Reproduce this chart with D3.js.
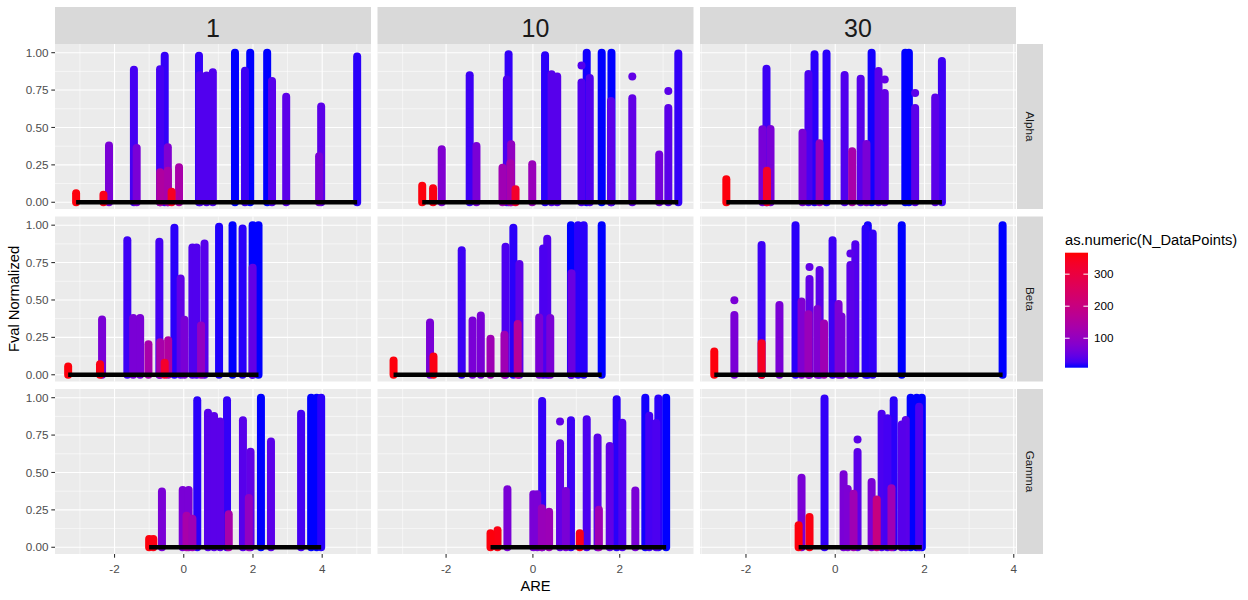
<!DOCTYPE html>
<html lang="en">
<head>
  <meta charset="UTF-8">
  <script src="https://d3js.org/d3.v7.min.js"></script>
  <title>Fval Normalized vs ARE</title>
  <style>
    body { margin: 0; background: #fff; }
    text { font-family: "Liberation Sans", Arial, sans-serif; }
  </style>
</head>
<body>
  <script>
    // facet labels
    const colLabels = ["1", "10", "30"]
    const rowLabels = ["Alpha", "Beta", "Gamma"]

    // each stack: [ARE, top Fval, N_DataPoints, optional lone point above]
    const alpha1 = [
      [-3.11, 0.06, 360], [-2.32, 0.05, 350], [-2.16, 0.38, 68], [-1.44, 0.886, 26],
      [-1.36, 0.363, 68], [-0.685, 0.89, 26], [-0.55, 0.98, 18], [-0.68, 0.20, 150],
      [-0.46, 0.367, 76], [-0.46, 0.21, 135], [-0.35, 0.07, 340], [-0.136, 0.234, 135],
      [0.44, 0.98, 18], [0.47, 0.85, 33], [0.66, 0.847, 33], [0.84, 0.869, 33],
      [1.48, 1.0, 8], [1.77, 0.88, 22], [1.92, 1.0, 8], [2.41, 1.0, 8],
      [2.55, 0.81, 37], [2.96, 0.706, 40], [3.91, 0.307, 68], [3.97, 0.64, 40], [5.01, 0.975, 15]
    ]
    const alpha10 = [
      [-2.55, 0.11, 360], [-2.30, 0.094, 355], [-2.10, 0.354, 76], [-1.456, 0.849, 22],
      [-1.30, 0.376, 68], [-0.60, 0.82, 30], [-0.56, 0.99, 18], [-0.70, 0.23, 120],
      [-0.50, 0.388, 100], [-0.52, 0.26, 135], [-0.40, 0.087, 330], [-0.015, 0.254, 110],
      [0.28, 0.982, 15], [0.43, 0.855, 37], [0.56, 0.84, 37], [1.12, 0.80, 33, 0.915],
      [1.24, 1.0, 10], [1.31, 0.83, 33], [1.585, 1.0, 8], [1.81, 1.0, 8],
      [1.80, 0.677, 40], [2.29, 0.695, 45, 0.84], [2.91, 0.32, 62], [3.12, 0.63, 40, 0.744],
      [3.35, 0.995, 18]
    ]
    const alpha30 = [
      [-2.44, 0.154, 360], [-1.63, 0.488, 65], [-1.54, 0.893, 22], [-1.45, 0.49, 68],
      [-1.53, 0.21, 330], [-0.733, 0.465, 68], [-0.60, 0.857, 30], [-0.464, 0.989, 15],
      [-0.35, 0.394, 110], [-0.195, 0.995, 15], [0.21, 0.85, 33], [0.38, 0.341, 135],
      [0.57, 0.826, 37], [0.70, 0.39, 68], [0.815, 1.0, 10], [0.97, 0.877, 40],
      [1.11, 0.73, 45, 0.82], [1.57, 1.0, 8], [1.65, 1.0, 8], [1.79, 0.63, 40, 0.73],
      [2.24, 0.70, 40], [2.39, 0.944, 22]
    ]
    const beta1 = [
      [-3.34, 0.056, 360], [-2.42, 0.071, 355], [-2.36, 0.37, 68], [-1.63, 0.90, 22],
      [-1.46, 0.38, 68], [-1.26, 0.38, 68], [-1.02, 0.204, 135], [-0.705, 0.89, 26],
      [-0.68, 0.218, 135], [-0.55, 0.08, 330], [-0.45, 0.23, 150], [-0.27, 0.982, 15],
      [-0.09, 0.644, 45], [0.02, 0.367, 68], [0.25, 0.85, 33], [0.37, 0.85, 33],
      [0.50, 0.33, 100], [0.60, 0.878, 37], [1.02, 0.99, 12], [1.41, 1.0, 8],
      [1.70, 0.978, 15], [1.99, 1.0, 8], [2.16, 1.0, 8], [1.99, 0.716, 45]
    ]
    const beta10 = [
      [-3.21, 0.096, 360], [-2.37, 0.349, 68], [-2.29, 0.122, 355], [-1.64, 0.833, 22],
      [-1.39, 0.362, 68], [-1.20, 0.396, 68], [-0.976, 0.24, 120], [-0.63, 0.856, 30],
      [-0.655, 0.267, 120], [-0.45, 0.982, 15], [-0.31, 0.74, 40], [-0.35, 0.34, 160],
      [0.145, 0.382, 68], [0.236, 0.844, 30], [0.33, 0.91, 33], [0.40, 0.38, 68],
      [0.877, 1.0, 8], [0.89, 0.678, 52], [1.04, 1.0, 15], [1.17, 1.0, 15], [1.585, 1.0, 8]
    ]
    const beta30 = [
      [-2.71, 0.156, 360], [-2.26, 0.40, 68, 0.498], [-1.65, 0.867, 22], [-1.65, 0.211, 340],
      [-1.25, 0.467, 68], [-0.89, 1.0, 15], [-0.755, 0.489, 76], [-0.576, 0.64, 45, 0.72],
      [-0.60, 0.404, 110], [-0.40, 0.44, 76], [-0.35, 0.70, 40], [-0.25, 0.342, 120],
      [-0.06, 0.90, 22], [0.075, 0.473, 72], [0.14, 0.39, 68], [0.34, 0.733, 40, 0.81],
      [0.45, 0.873, 33], [0.68, 0.978, 15], [0.73, 1.0, 10], [0.84, 0.944, 18],
      [1.49, 1.0, 8], [3.75, 1.0, 8]
    ]
    const gamma1 = [
      [-1.0, 0.056, 360], [-0.88, 0.056, 355], [-0.63, 0.373, 68], [-0.03, 0.382, 68],
      [0.14, 0.382, 68], [0.08, 0.21, 135], [0.25, 0.19, 120], [0.39, 0.982, 15],
      [0.70, 0.90, 37], [0.876, 0.878, 40], [1.05, 0.84, 40], [1.25, 0.982, 18],
      [1.30, 0.22, 135], [1.71, 0.849, 37], [1.93, 0.638, 45], [1.88, 0.33, 100],
      [2.23, 1.0, 8], [2.52, 0.707, 40], [3.39, 0.893, 26], [3.68, 1.0, 8],
      [3.84, 1.0, 8], [3.97, 1.0, 15]
    ]
    const gamma10 = [
      [-0.976, 0.094, 360], [-0.815, 0.114, 355], [-0.587, 0.388, 68], [0.01, 0.354, 68],
      [0.10, 0.354, 68], [0.213, 0.978, 18], [0.206, 0.26, 110], [0.373, 0.238, 115],
      [0.625, 0.695, 45, 0.84], [0.76, 0.376, 68], [0.877, 0.849, 22], [1.08, 0.094, 350],
      [1.24, 0.855, 30], [1.49, 0.733, 40], [1.52, 0.25, 120], [1.77, 0.677, 45],
      [1.93, 0.989, 15], [2.06, 0.833, 33], [2.36, 0.38, 68], [2.59, 1.0, 10],
      [2.68, 0.88, 26], [2.84, 0.83, 30], [2.89, 0.995, 15], [3.07, 1.0, 8]
    ]
    const gamma30 = [
      [-0.82, 0.147, 360], [-0.755, 0.465, 68], [-0.576, 0.203, 355], [-0.24, 0.995, 18],
      [0.187, 0.488, 68], [0.28, 0.39, 72], [0.41, 0.358, 120], [0.50, 0.637, 40, 0.72],
      [0.815, 0.436, 68], [0.93, 0.32, 200], [1.04, 0.893, 30], [1.17, 0.862, 26],
      [1.26, 0.394, 120], [1.31, 0.982, 15], [1.49, 0.82, 37], [1.58, 0.85, 40],
      [1.69, 1.0, 8], [1.825, 1.0, 8], [1.94, 1.0, 8], [1.88, 0.94, 30]
    ]
    const panels = [
      [alpha1, alpha10, alpha30],
      [beta1, beta10, beta30],
      [gamma1, gamma10, gamma30]
    ]

    // free x scales per column
    const xDomains = [[-3.72, 5.41], [-3.58, 3.70], [-3.03, 4.05]]
    const xTicks = [[-2, 0, 2, 4], [-2, 0, 2], [-2, 0, 2, 4]]
    const yDomain = [-0.045, 1.058]
    const yTicks = [0, 0.25, 0.5, 0.75, 1]
    const nRange = [8, 367]
    const legendTicks = [100, 200, 300]

    const dimensions = {
      width: 1248,
      height: 600,
      left: 55,
      top: 44,
      panelW: 316,
      panelH: 165,
      gapX: 6.5,
      gapY: 7.5,
      stripTop: 7,
      stripW: 26
    }

    const svg = d3.select("body")
        .append("svg")
        .attr("width", dimensions.width)
        .attr("height", dimensions.height)

    const color = d3.scaleSequential(d3.interpolateLab("blue", "red")).domain(nRange)
    const yScale = d3.scaleLinear().domain(yDomain).range([dimensions.panelH, 0])

    const colX = c => dimensions.left + c * (dimensions.panelW + dimensions.gapX)
    const rowY = r => dimensions.top + r * (dimensions.panelH + dimensions.gapY)

    svg.append("defs").append("clipPath").attr("id", "panel-clip")
      .append("rect").attr("width", dimensions.panelW).attr("height", dimensions.panelH)

    const yMinor = yTicks.slice(1).map((t, i) => (t + yTicks[i]) / 2)

    panels.forEach((row, r) => {
      row.forEach((stacks, c) => {
        const xScale = d3.scaleLinear().domain(xDomains[c]).range([0, dimensions.panelW])
        const ticks = xTicks[c]
        const xMinor = ticks.map(t => t - 1).concat([ticks[ticks.length - 1] + 1])
            .filter(t => t > xDomains[c][0] && t < xDomains[c][1])

        const g = svg.append("g")
            .attr("transform", `translate(${colX(c)},${rowY(r)})`)

        g.append("rect")
            .attr("width", dimensions.panelW)
            .attr("height", dimensions.panelH)
            .attr("fill", "#ebebeb")

        // grid
        g.selectAll(".ymin").data(yMinor).join("line")
            .attr("x1", 0).attr("x2", dimensions.panelW)
            .attr("y1", d => yScale(d)).attr("y2", d => yScale(d))
            .attr("stroke", "#fff").attr("stroke-width", 0.55)
        g.selectAll(".xmin").data(xMinor).join("line")
            .attr("y1", 0).attr("y2", dimensions.panelH)
            .attr("x1", d => xScale(d)).attr("x2", d => xScale(d))
            .attr("stroke", "#fff").attr("stroke-width", 0.55)
        g.selectAll(".ymaj").data(yTicks).join("line")
            .attr("x1", 0).attr("x2", dimensions.panelW)
            .attr("y1", d => yScale(d)).attr("y2", d => yScale(d))
            .attr("stroke", "#fff").attr("stroke-width", 1.1)
        g.selectAll(".xmaj").data(ticks).join("line")
            .attr("y1", 0).attr("y2", dimensions.panelH)
            .attr("x1", d => xScale(d)).attr("x2", d => xScale(d))
            .attr("stroke", "#fff").attr("stroke-width", 1.1)

        const marks = g.append("g").attr("clip-path", "url(#panel-clip)")

        // tall stacks first so the short ones stay visible
        const sorted = stacks.slice().sort((a, b) => b[1] - a[1])
        marks.selectAll("line.stack").data(sorted).join("line")
            .attr("class", "stack")
            .attr("x1", d => xScale(d[0])).attr("x2", d => xScale(d[0]))
            .attr("y1", yScale(0)).attr("y2", d => yScale(d[1]))
            .attr("stroke", d => color(d[2]))
            .attr("stroke-width", 8)
            .attr("stroke-linecap", "round")

        marks.selectAll("circle").data(stacks.filter(d => d[3] != null)).join("circle")
            .attr("cx", d => xScale(d[0]))
            .attr("cy", d => yScale(d[3]))
            .attr("r", 4)
            .attr("fill", d => color(d[2]))

        const ext = d3.extent(stacks, d => d[0])
        marks.append("line")
            .attr("x1", xScale(ext[0])).attr("x2", xScale(ext[1]))
            .attr("y1", yScale(0)).attr("y2", yScale(0))
            .attr("stroke", "#000").attr("stroke-width", 4.5)

        // y axis on first column
        if (c === 0) {
          const ax = g.append("g")
          ax.selectAll("line").data(yTicks).join("line")
              .attr("x1", -3.7).attr("x2", 0)
              .attr("y1", d => yScale(d)).attr("y2", d => yScale(d))
              .attr("stroke", "#333").attr("stroke-width", 1.1)
          ax.selectAll("text").data(yTicks).join("text")
              .attr("x", -6.5).attr("y", d => yScale(d)).attr("dy", "0.35em")
              .attr("text-anchor", "end")
              .attr("fill", "#4d4d4d").style("font-size", "11.7px")
              .text(d => d3.format(".2f")(d))
        }
        // x axis on bottom row
        if (r === panels.length - 1) {
          const ax = g.append("g").attr("transform", `translate(0,${dimensions.panelH})`)
          ax.selectAll("line").data(ticks).join("line")
              .attr("x1", d => xScale(d)).attr("x2", d => xScale(d))
              .attr("y1", 0).attr("y2", 3.7)
              .attr("stroke", "#333").attr("stroke-width", 1.1)
          ax.selectAll("text").data(ticks).join("text")
              .attr("x", d => xScale(d)).attr("y", 18.5)
              .attr("text-anchor", "middle")
              .attr("fill", "#4d4d4d").style("font-size", "11.7px")
              .text(d => d)
        }
      })
    })

    // column strips
    colLabels.forEach((lab, c) => {
      svg.append("rect")
          .attr("x", colX(c)).attr("y", dimensions.stripTop)
          .attr("width", dimensions.panelW).attr("height", dimensions.top - dimensions.stripTop)
          .attr("fill", "#d9d9d9")
      svg.append("text")
          .attr("x", colX(c) + dimensions.panelW / 2).attr("y", 36.5)
          .attr("text-anchor", "middle")
          .attr("fill", "#1a1a1a").style("font-size", "25px")
          .text(lab)
    })

    // row strips
    const stripX = colX(2) + dimensions.panelW + 1
    rowLabels.forEach((lab, r) => {
      svg.append("rect")
          .attr("x", stripX).attr("y", rowY(r))
          .attr("width", dimensions.stripW).attr("height", dimensions.panelH)
          .attr("fill", "#d9d9d9")
      const cx = stripX + dimensions.stripW / 2, cy = rowY(r) + dimensions.panelH / 2
      svg.append("text")
          .attr("transform", `translate(${cx},${cy}) rotate(90)`)
          .attr("text-anchor", "middle").attr("dy", "0.35em")
          .attr("fill", "#1a1a1a").style("font-size", "11.7px")
          .text(lab)
    })

    // axis titles
    svg.append("text")
        .attr("x", dimensions.left + (colX(2) + dimensions.panelW - dimensions.left) / 2)
        .attr("y", 591)
        .attr("text-anchor", "middle")
        .style("font-size", "14.7px")
        .text("ARE")
    svg.append("text")
        .attr("transform", `translate(19,${rowY(0) + (rowY(2) + dimensions.panelH - rowY(0)) / 2}) rotate(-90)`)
        .attr("text-anchor", "middle")
        .style("font-size", "14.7px")
        .text("Fval Normalized")

    // colour legend
    const legend = { x: 1065, top: 252.7, bottom: 367.7, w: 23 }
    const grad = svg.select("defs").append("linearGradient")
        .attr("id", "legend-grad")
        .attr("x1", 0).attr("y1", 1).attr("x2", 0).attr("y2", 0)
    grad.selectAll("stop").data(d3.range(0, 1.0001, 0.05)).join("stop")
        .attr("offset", d => d)
        .attr("stop-color", d => color(nRange[0] + d * (nRange[1] - nRange[0])))

    svg.append("text")
        .attr("x", legend.x).attr("y", 244.5)
        .style("font-size", "14.7px")
        .text("as.numeric(N_DataPoints)")
    svg.append("rect")
        .attr("x", legend.x).attr("y", legend.top)
        .attr("width", legend.w).attr("height", legend.bottom - legend.top)
        .attr("fill", "url(#legend-grad)")

    const legendY = d3.scaleLinear().domain(nRange).range([legend.bottom, legend.top])
    const lt = svg.append("g")
    lt.selectAll("line.l").data(legendTicks).join("line")
        .attr("class", "l")
        .attr("x1", legend.x).attr("x2", legend.x + 4.6)
        .attr("y1", d => legendY(d)).attr("y2", d => legendY(d))
        .attr("stroke", "#fff").attr("stroke-width", 1)
    lt.selectAll("line.r").data(legendTicks).join("line")
        .attr("class", "r")
        .attr("x1", legend.x + legend.w - 4.6).attr("x2", legend.x + legend.w)
        .attr("y1", d => legendY(d)).attr("y2", d => legendY(d))
        .attr("stroke", "#fff").attr("stroke-width", 1)
    lt.selectAll("text").data(legendTicks).join("text")
        .attr("x", legend.x + legend.w + 6).attr("y", d => legendY(d)).attr("dy", "0.35em")
        .style("font-size", "11.7px")
        .text(d => d)
  </script>
</body>
</html>
